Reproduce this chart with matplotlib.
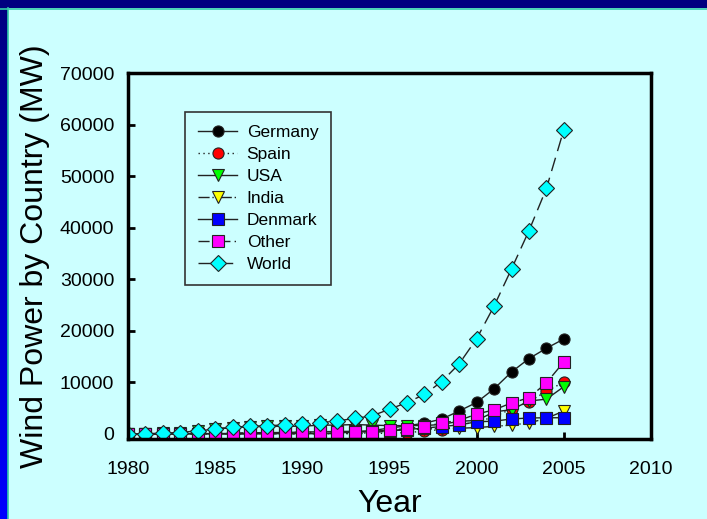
import numpy as np
import matplotlib
matplotlib.use('Agg')
from matplotlib import pyplot as plt

plt.rcParams['font.family'] = ['Liberation Sans', 'DejaVu Sans']

# installed wind power capacity (MW)
years = list(range(1980, 2006))
germany = [0, 0, 0, 0, 0, 0, 10, 20, 30, 40, 60, 110, 180, 330, 630, 1130,
           1550, 2080, 2870, 4440, 6100, 8750, 12000, 14600, 16600, 18400]
spain = [0, 0, 0, 0, 0, 0, 0, 0, 0, 0, 7, 7, 46, 52, 75, 115,
         249, 512, 834, 1812, 2235, 3337, 4825, 6203, 8263, 10027]
usa = [10, 20, 90, 250, 600, 900, 1200, 1400, 1450, 1460, 1480, 1680, 1700, 1800, 1700, 1590,
       1600, 1610, 1820, 2450, 2580, 4260, 4690, 6370, 6730, 9150]
india = [0, 0, 0, 0, 0, 0, 0, 0, 0, 10, 40, 40, 40, 80, 200, 576,
         820, 940, 1015, 1080, 1220, 1456, 1702, 2125, 3000, 4430]
denmark = [5, 7, 12, 20, 30, 50, 80, 115, 190, 260, 343, 410, 458, 487, 539, 637,
           835, 1116, 1420, 1738, 2341, 2456, 2880, 3076, 3118, 3128]
other = [0, 0, 0, 0, 20, 100, 150, 200, 250, 250, 300, 300, 300, 350, 400, 730,
         1020, 1370, 2150, 2600, 3850, 4650, 6000, 7000, 9900, 13950]
world = [10, 25, 90, 210, 600, 1020, 1270, 1450, 1580, 1730, 1930, 2170, 2510, 2990, 3490, 4780,
         6070, 7640, 10150, 13600, 18450, 24800, 32000, 39400, 47600, 59000]

series = [
    ('Germany', germany, 'o', 'black', '-'),
    ('Spain', spain, 'o', 'red', (0, (1, 2.5))),
    ('USA', usa, 'v', '#00FF00', '-'),
    ('India', india, 'v', 'yellow', (0, (8, 2, 1, 2, 1, 2))),
    ('Denmark', denmark, 's', 'blue', '-'),
    ('Other', other, 's', 'magenta', (0, (8, 3, 1, 3))),
    ('World', world, 'D', 'cyan', (0, (10, 5))),
]

bg = '#CCFFFF'
fig = plt.figure(figsize=(7.07, 5.19), dpi=100, facecolor=bg)

# border decoration: navy top bar, gradient left bar
top = fig.add_axes([0, 1 - 8 / 519, 1, 8 / 519])
top.axis('off')
top.imshow([[0, 0]], cmap=matplotlib.colors.ListedColormap(['#000080']), aspect='auto')
fig.add_artist(plt.Line2D([0, 1], [1 - 8.5 / 519] * 2, color='#33CCAA', lw=1.2))
left = fig.add_axes([0, 0, 7.5 / 707, 1 - 8 / 519])
left.axis('off')
grad = np.linspace(0, 1, 256).reshape(-1, 1)
left.imshow(grad, cmap=matplotlib.colors.LinearSegmentedColormap.from_list('b', ['#0000FF', '#000080']),
            aspect='auto', origin='lower')
fig.add_artist(plt.Line2D([8 / 707] * 2, [0, 1 - 8 / 519], color='#33CCAA', lw=1.2))

ax = fig.add_axes([128 / 707, 80 / 519, 523 / 707, 366 / 519])
ax.set_facecolor(bg)
for name, vals, mk, fc, ls in series:
    ax.plot(years, vals, linestyle=ls, color='#222222', lw=1.0, marker=mk, markersize=8,
            markerfacecolor=fc, markeredgecolor='#222222', markeredgewidth=0.8, label=name)

ax.set_xlim(1980, 2010)
ax.set_ylim(-1000, 70000)
ax.set_xticks(range(1980, 2011, 5))
ax.set_yticks(range(0, 70001, 10000))
ax.tick_params(direction='in', length=5, width=2, labelsize=14)
ax.tick_params(axis='x', pad=16)
ax.tick_params(axis='y', pad=10)
for s in ax.spines.values():
    s.set_linewidth(2.5)
ax.set_xlabel('Year', fontsize=23, labelpad=8)
ax.set_ylabel('Wind Power by Country (MW)', fontsize=23, labelpad=7)

leg = ax.legend(loc='upper left', bbox_to_anchor=(0.109, 0.893), borderaxespad=0,
                fontsize=12.5, handlelength=2.25, labelspacing=0.39, borderpad=0.75,
                handletextpad=0.55, fancybox=False, framealpha=1, facecolor=bg)
leg.get_frame().set_edgecolor('#333333')
leg.get_frame().set_linewidth(1.2)

plt.savefig('out.png', dpi=100, facecolor=bg)
